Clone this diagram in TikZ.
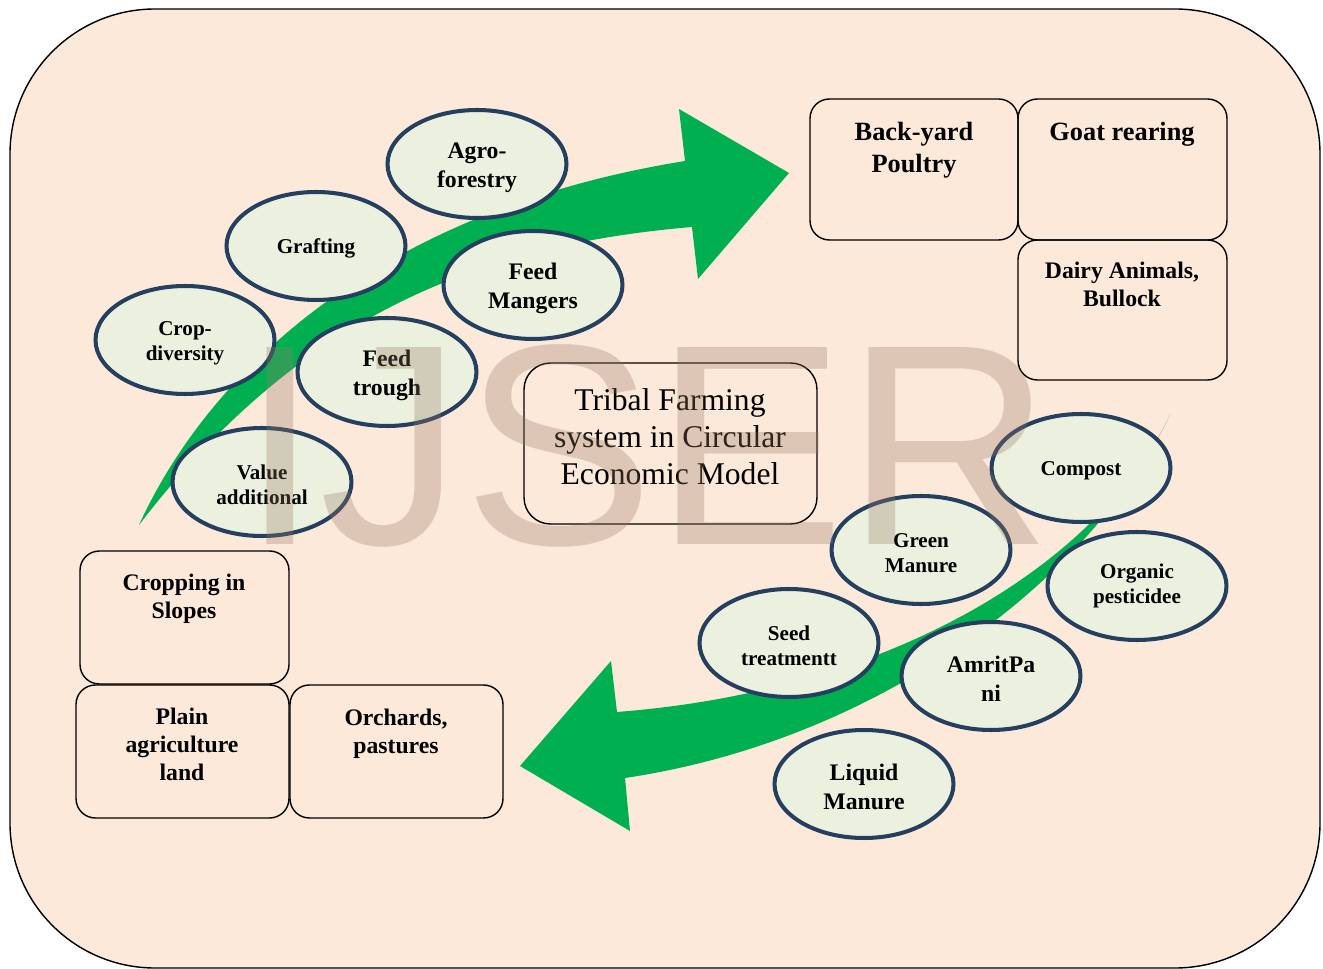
\documentclass[tikz,border=0pt]{standalone}
\usepackage{fontspec}
\setmainfont{Liberation Serif}
\newfontfamily\stampfont{Liberation Sans}
\usepackage{xcolor}
\usepackage{tikz}
\usetikzlibrary{shapes.geometric}
\definecolor{peach}{RGB}{253, 233, 217}
\definecolor{leafgreen}{RGB}{0, 176, 80}
\definecolor{palegreen}{RGB}{235, 241, 222}
\definecolor{inkblue}{RGB}{36, 63, 96}
\definecolor{stampbrown}{RGB}{150, 120, 100}

\begin{document}
\begin{tikzpicture}[x=0.02cm, y=-0.02cm,
    practice/.style={ellipse, draw=inkblue, line width=2.3pt, fill=palegreen,
        minimum width=3.58cm, minimum height=2.16cm, inner sep=0pt, align=center},
    smalltxt/.style={font=\fontsize{12}{14.2}\selectfont\bfseries},
    bigtxt/.style={font=\fontsize{13.5}{16.4}\selectfont\bfseries},
    unit/.style={draw, line width=0.8pt, rounded corners=11pt},
    unittxt/.style={align=center, inner sep=0pt, font=\fontsize{13.5}{16}\selectfont\bfseries}]
    \useasboundingbox (0,0) rectangle (1323,969);

    % Background
    \draw[fill=peach, line width=0.8pt, rounded corners=2.9cm] (10,9) rectangle (1320,968);

    % Green arrows
    \fill[leafgreen] (139,525) .. controls (210,370) and (380,210) .. (685,161)
        -- (679,109) -- (789,173) -- (698,279) -- (692,227)
        .. controls (480,245) and (300,315) .. (139,525) -- cycle;
    \fill[leafgreen] (1170,415) .. controls (1100,560) and (900,690) .. (617,712)
        -- (611,661) -- (520,766) -- (630,831) -- (625,778)
        .. controls (880,740) and (1090,580) .. (1170,415) -- cycle;

    % Livestock units (top right)
    \node[unit, minimum width=4.16cm, minimum height=2.82cm] (poultry) at (914,169.5) {};
    \node[unit, minimum width=4.18cm, minimum height=2.82cm] (goat) at (1122.5,169.5) {};
    \node[unit, minimum width=4.18cm, minimum height=2.8cm] (dairy) at (1122.5,310) {};
    \node[unittxt, font=\fontsize{15}{18}\selectfont\bfseries] (poultrytxt) at (914,150) {Back-yard\\Poultry};
    \node[unittxt, font=\fontsize{15}{18}\selectfont\bfseries] (goattxt) at (1122,134) {Goat rearing};
    \node[unittxt] (dairytxt) at (1122,284) {Dairy Animals,\\Bullock};

    % Land units (bottom left)
    \node[unit, minimum width=4.18cm, minimum height=2.66cm] (slopes) at (184.5,617.5) {};
    \node[unit, minimum width=4.26cm, minimum height=2.66cm] (plain) at (182.5,751.5) {};
    \node[unit, minimum width=4.26cm, minimum height=2.66cm] (orchard) at (396.5,751.5) {};
    \node[unittxt] (slopestxt) at (184,599) {Cropping in\\Slopes};
    \node[unittxt] (plaintxt) at (182,744) {Plain\\agriculture\\land};
    \node[unittxt] (orchardtxt) at (396,734) {Orchards,\\pastures};

    % Model (centre)
    \node[unit, rounded corners=15pt, minimum width=5.86cm, minimum height=3.22cm] (model) at (670.5,443.5) {};
    \node[align=center, inner sep=0pt, font=\fontsize{18}{21}\selectfont] (modeltxt) at (670,437)
        {Tribal Farming\\system in Circular\\Economic Model};

    % Crop practices
    \foreach \x/\y/\nm/\txt in {316/246/graft/Grafting, 185/340/cropdiv/{Crop-\\diversity},
                                262/482/valadd/{Value\\additional}} {
        \node[practice, smalltxt] (\nm) at (\x,\y) {\rule{0pt}{11.5pt}\txt};
    }
    \foreach \x/\y/\nm/\txt in {477/164/agro/{Agro-\\forestry}, 533/285/manger/{Feed\\Mangers},
                                387/372/trough/{Feed\\trough}} {
        \node[practice, bigtxt] (\nm) at (\x,\y) {\rule{0pt}{13pt}\txt};
    }

    % Manure practices
    \foreach \x/\y/\nm/\txt in {1081/468/compost/Compost, 921/550/greenman/{Green\\Manure},
                                789/643/seed/{Seed\\treatmentt}} {
        \node[practice, smalltxt] (\nm) at (\x,\y) {\rule{0pt}{11.5pt}\txt};
    }
    \node[practice, smalltxt] (organic) at (1137,586) {Organic\\pesticidee};
    \foreach \x/\y/\nm/\txt in {991/676/amrit/{AmritPa\\ni}, 864/784/liquid/{Liquid\\Manure}} {
        \node[practice, bigtxt] (\nm) at (\x,\y) {\rule{0pt}{12.6pt}\txt};
    }

    % Watermark
    \node[anchor=base west, inner sep=0pt, text=stampbrown, opacity=0.3,
          font=\stampfont\fontsize{163}{163}\selectfont] (stamp) at (240,545) {IJSER};
\end{tikzpicture}
\end{document}
